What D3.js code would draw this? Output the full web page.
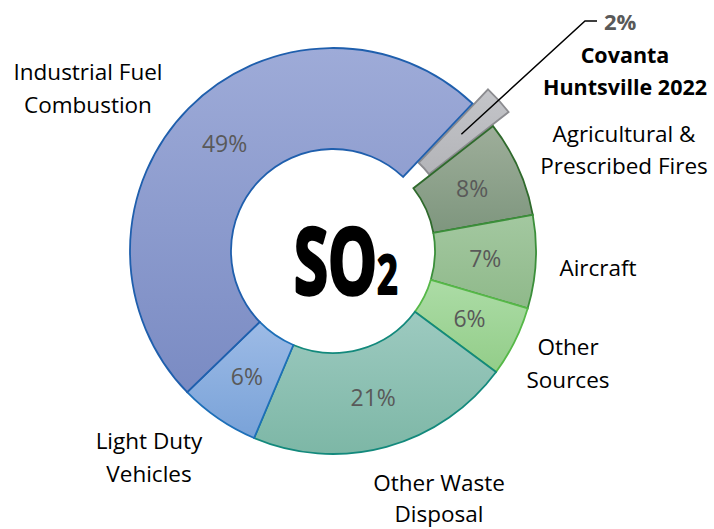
<!DOCTYPE html>
<html>
<head>
<meta charset="utf-8">
<script src="https://cdn.jsdelivr.net/npm/d3@7"></script>
<style>
  body { margin: 0; background: #fff; }
  svg text { font-family: "Open Sans", Lato, sans-serif; }
</style>
</head>
<body>
<svg id="chart" width="714" height="529"></svg>
<script>
// data (share of SO2 emissions, %), order clockwise starting at the Covanta slice
var categories = ["Covanta Huntsville 2022", "Agricultural & Prescribed Fires", "Aircraft",
  "Other Sources", "Other Waste Disposal", "Light Duty Vehicles", "Industrial Fuel Combustion"];
var shares = [2.4, 7.7, 7.4, 5.6, 21.2, 6.4, 49.3];
var labelLines = [["Covanta", "Huntsville 2022"], ["Agricultural &", "Prescribed Fires"], ["Aircraft"],
  ["Other", "Sources"], ["Other Waste", "Disposal"], ["Light Duty", "Vehicles"], ["Industrial Fuel", "Combustion"]];

// styles
var fillTop    = ["#c4c5c9", "#9eae9a", "#a3c8a0", "#acdca6", "#9dcac0", "#9dbbe6", "#9eabd8"];
var fillBottom = ["#b3b4b8", "#7e967e", "#8fb98a", "#93cd89", "#7db7a6", "#79a2d8", "#7a8bc3"];
var strokes    = ["#8c8c90", "#2f6a2c", "#3b8f3a", "#56b848", "#13897c", "#1d6fb8", "#1f5fad"];

// layout: label anchor (center x, first baseline, line height)
var labelAnchor = [[625, 62.7, 32.5], [624, 141.7, 32.5], [598, 276, 32.5], [568, 355, 32.5],
  [439, 491, 30.5], [149, 449, 32.5], [88, 80, 32.5]];

var cx = 333, cy = 251, rOuter = 203, rInner = 102, explode = 21;
var start = 43.4 * Math.PI / 180;

var svg = d3.select("#chart");
var defs = svg.append("defs");
categories.forEach(function(c, i) {
  var g = defs.append("linearGradient").attr("id", "grad" + i)
    .attr("x1", 0).attr("y1", 0).attr("x2", 0).attr("y2", 1);
  g.append("stop").attr("offset", "0%").attr("stop-color", fillTop[i]);
  g.append("stop").attr("offset", "100%").attr("stop-color", fillBottom[i]);
});

var pie = d3.pie().sort(null).value(function(d) { return d; })
  .startAngle(start).endAngle(start + 2 * Math.PI);
var arcs = pie(shares);
var arc = d3.arc().innerRadius(rInner).outerRadius(rOuter);

var g = svg.append("g").attr("transform", "translate(" + cx + "," + cy + ")");

function offset(d, i) {
  if (i !== 0) return [0, 0];
  var a = (d.startAngle + d.endAngle) / 2;
  return [Math.sin(a) * explode, -Math.cos(a) * explode];
}

g.selectAll("path.slice").data(arcs).enter().append("path")
  .attr("class", "slice")
  .attr("d", arc)
  .attr("transform", function(d, i) { var o = offset(d, i); return "translate(" + o[0] + "," + o[1] + ")"; })
  .attr("fill", function(d, i) { return "url(#grad" + i + ")"; })
  .attr("stroke", function(d, i) { return strokes[i]; })
  .attr("stroke-width", 1.8)
  .attr("stroke-linejoin", "miter");

// percent labels
g.selectAll("text.pct").data(arcs).enter().filter(function(d, i) { return i > 0; })
  .append("text")
  .attr("class", "pct")
  .attr("x", function(d) { return arc.centroid(d)[0]; })
  .attr("y", function(d) { return arc.centroid(d)[1]; })
  .attr("dy", "0.36em")
  .attr("text-anchor", "middle")
  .attr("font-size", 23)
  .attr("fill", "#595959")
  .text(function(d) { return Math.round(d.value) + "%"; });

// leader line for the exploded slice
var d0 = arcs[0], o0 = offset(d0, 0), c0 = arc.centroid(d0);
var p0 = [cx + c0[0] + o0[0], cy + c0[1] + o0[1]];
svg.append("polyline")
  .attr("points", [p0, [585, 21], [597, 21]].map(function(p) { return p.join(","); }).join(" "))
  .attr("fill", "none").attr("stroke", "#000").attr("stroke-width", 1.5);
svg.append("text").attr("x", 604).attr("y", 30)
  .attr("font-size", 22).attr("font-weight", "bold").attr("fill", "#595959")
  .text(Math.round(shares[0]) + "%");

// category labels
labelLines.forEach(function(lines, i) {
  var t = svg.append("text")
    .attr("text-anchor", "middle")
    .attr("font-size", i === 0 ? 21.5 : 22.5)
    .attr("font-weight", i === 0 ? "bold" : "normal")
    .attr("fill", "#000");
  lines.forEach(function(l, k) {
    t.append("tspan").attr("x", labelAnchor[i][0]).attr("y", labelAnchor[i][1] + k * labelAnchor[i][2]).text(l);
  });
});

// SO2 title in the hole (one text, condensed horizontally)
var sx = 0.67;
var title = svg.append("text")
  .attr("transform", "translate(294,294) scale(" + sx + ",1)")
  .attr("font-family", "'Liberation Sans Narrow', 'DejaVu Sans Condensed', sans-serif")
  .attr("font-weight", "bold").attr("font-size", 92)
  .attr("stroke", "#000").attr("stroke-width", 3.5).attr("stroke-linejoin", "round");
title.append("tspan").text("SO");
title.append("tspan").attr("dx", 0).attr("font-size", 54).attr("stroke-width", 2).text("2");
</script>
</body>
</html>
